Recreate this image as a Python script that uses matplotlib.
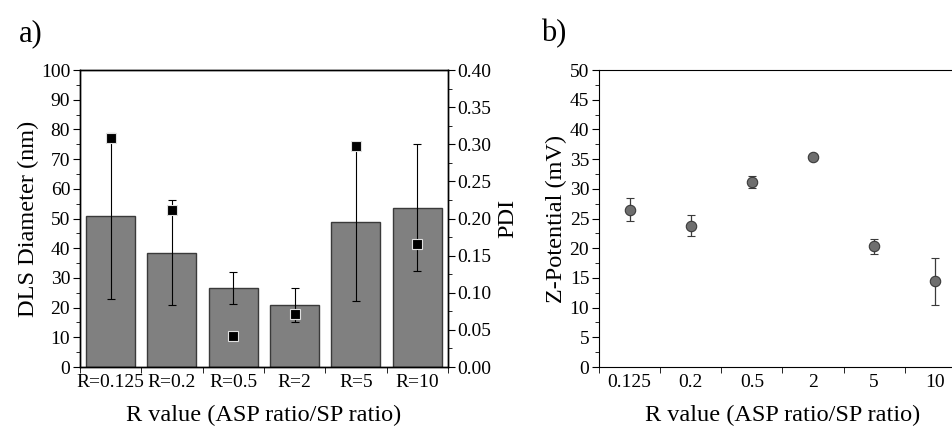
import numpy as np
import matplotlib
matplotlib.use('Agg')
import matplotlib.pyplot as plt
from matplotlib.ticker import MultipleLocator, FixedLocator

plt.rcParams['font.family'] = ['Liberation Serif', 'DejaVu Serif']

# data
labels_a = ['R=0.125', 'R=0.2', 'R=0.5', 'R=2', 'R=5', 'R=10']
labels_b = ['0.125', '0.2', '0.5', '2', '5', '10']
dls = [50.8, 38.5, 26.6, 20.9, 48.7, 53.7]
dls_err = [28.0, 17.7, 5.5, 5.6, 26.5, 21.5]
pdi = [0.308, 0.212, 0.042, 0.071, 0.298, 0.165]
zeta = [26.5, 23.8, 31.2, 35.4, 20.3, 14.4]
zeta_err = [1.9, 1.8, 1.0, 0.5, 1.2, 3.9]

xlabel = 'R value (ASP ratio/SP ratio)'
tfs = 14    # tick labels
lfs = 17.5  # axis labels

fig = plt.figure(figsize=(9.53, 4.30), dpi=100)

# a) bars + PDI
ax = fig.add_axes([0.0839, 0.1465, 0.386, 0.6907])
x = np.arange(len(dls))
ax.bar(x, dls, width=0.8, color='#808080', edgecolor='#3a3a3a', linewidth=1.0,
       yerr=dls_err, error_kw=dict(ecolor='black', elinewidth=0.8, capsize=3, capthick=0.8))
ax.set_xlim(-0.5, 5.5)
ax.set_ylim(0, 100)
ax.yaxis.set_major_locator(MultipleLocator(10))
ax.yaxis.set_minor_locator(MultipleLocator(5))
ax.set_xticks(x)
ax.set_xticklabels(labels_a, fontsize=tfs)
ax.xaxis.set_minor_locator(FixedLocator(np.arange(-0.5, 6, 1)))
ax.tick_params(axis='x', which='major', length=0, pad=5)
ax.tick_params(axis='x', which='minor', length=4, direction='out')
ax.tick_params(axis='y', which='major', length=5, labelsize=tfs, pad=2)
ax.tick_params(axis='y', which='minor', length=3)
ax.set_ylabel('DLS Diameter (nm)', fontsize=lfs, labelpad=1)
ax.set_xlabel(xlabel, fontsize=lfs, labelpad=10)

ax2 = ax.twinx()
ax2.plot(x, pdi, 's', color='black', markersize=6.5, markeredgecolor='#e0e0e0',
         markeredgewidth=0.8, zorder=5)
ax2.set_ylim(0, 0.4)
ax2.yaxis.set_major_locator(MultipleLocator(0.05))
ax2.yaxis.set_minor_locator(MultipleLocator(0.025))
ax2.yaxis.set_major_formatter(matplotlib.ticker.FormatStrFormatter('%.2f'))
ax2.tick_params(axis='y', which='major', length=5, labelsize=tfs, pad=2)
ax2.tick_params(axis='y', which='minor', length=3)
ax2.set_ylabel('PDI', fontsize=lfs, labelpad=4)

for a in (ax, ax2):
    for s in a.spines.values():
        s.set_linewidth(1.0)

# b) zeta potential
bx = fig.add_axes([0.6285, 0.1465, 0.385, 0.6907])
bx.errorbar(x, zeta, yerr=zeta_err, fmt='o', color='#6e6e6e', markersize=7.5,
            markeredgecolor='#3a3a3a', markeredgewidth=0.8, ecolor='#3a3a3a',
            elinewidth=0.9, capsize=3, capthick=0.9)
bx.set_xlim(-0.5, 5.5)
bx.set_ylim(0, 50)
bx.yaxis.set_major_locator(MultipleLocator(5))
bx.yaxis.set_minor_locator(MultipleLocator(2.5))
bx.set_xticks(x)
bx.set_xticklabels(labels_b, fontsize=tfs)
bx.xaxis.set_minor_locator(FixedLocator(np.arange(-0.5, 6, 1)))
bx.tick_params(axis='x', which='major', length=0, pad=5)
bx.tick_params(axis='x', which='minor', length=4, direction='out')
bx.tick_params(axis='y', which='major', length=5, labelsize=tfs, pad=2)
bx.tick_params(axis='y', which='minor', length=3)
bx.spines['right'].set_visible(False)
bx.set_ylabel('Z-Potential (mV)', fontsize=lfs, labelpad=2)
bx.set_xlabel(xlabel, fontsize=lfs, labelpad=10)

fig.text(0.020, 0.905, 'a)', fontsize=22)
fig.text(0.568, 0.905, 'b)', fontsize=22)

fig.savefig('out.png', dpi=100)
